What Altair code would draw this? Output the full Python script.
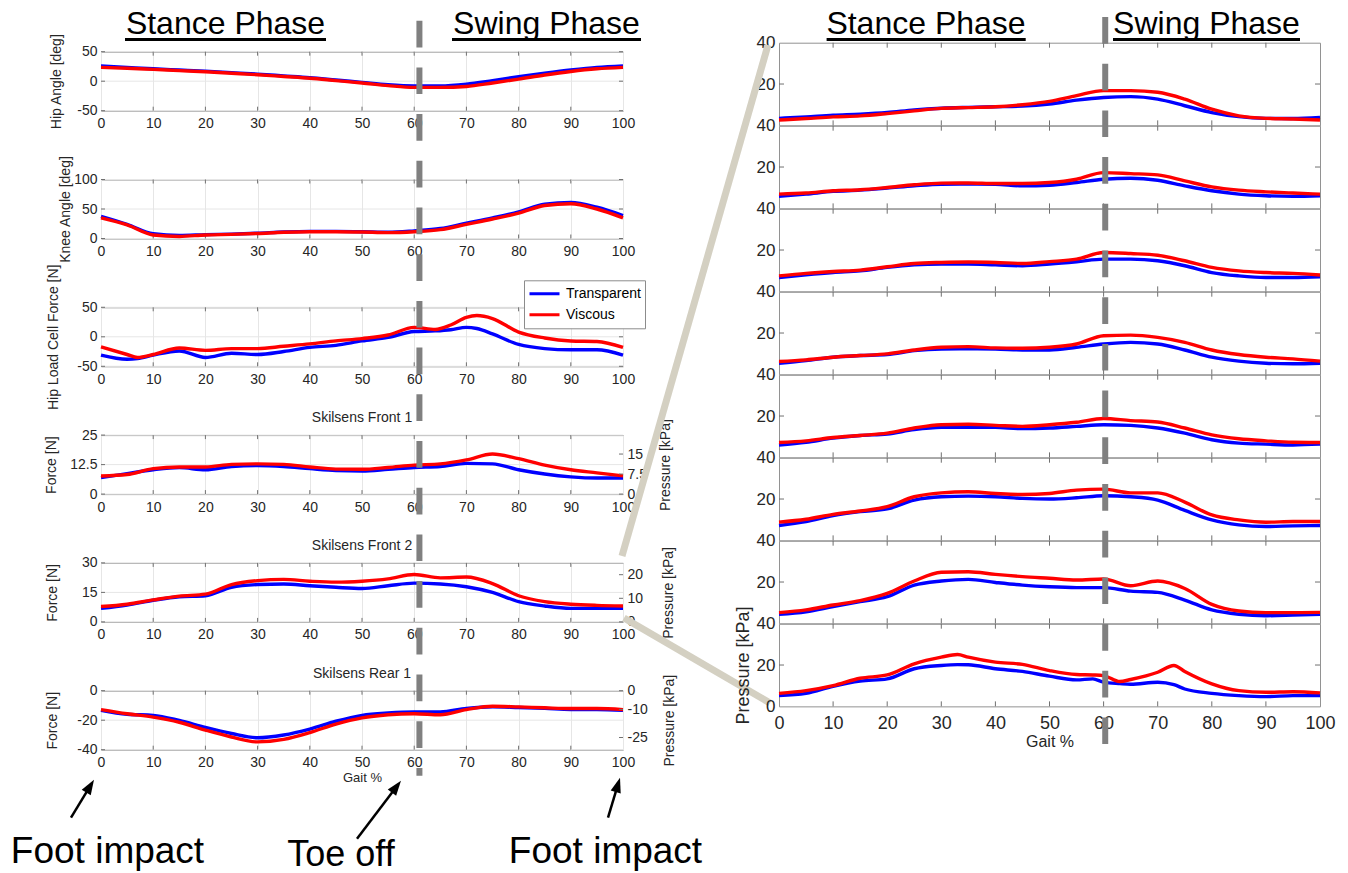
import math
import altair as alt
import pandas as pd

FONT = "Liberation Sans"
BLUE, RED = "#0000ff", "#ff0000"
FRAME = "#929292"
TICK = "#707070"
GRID = "#e6e6e6"
INK = "#262626"
DASH = "#808080"
BEIGE = "#d4d0c2"
SERIES = ["Transparent", "Viscous"]
NUM = "datum.value + ''"

# ---------------- data ----------------
G5 = list(range(0, 101, 5))
X_TICKS = list(range(0, 101, 10))
X_INNER = list(range(10, 100, 10))

HIP_T = [26, 23.5, 21, 19, 17, 14.5, 12, 9, 6, 2, -2, -6, -8, -8, -5, 1, 7.5, 13.5, 19, 23.5, 26]
HIP_V = [23.5, 22, 20, 18, 16, 13.5, 11, 8, 5, 1, -3, -7.5, -10.5, -10.5, -9, -3, 3.5, 10.5, 16.5, 21, 23.5]
KNEE_T = [37.5, 24, 8, 5, 6.5, 7.5, 9, 11, 12, 12, 11.5, 10.5, 13, 17, 26, 35, 45, 58, 61, 53, 39]
KNEE_V = [35, 23, 6, 3.5, 6, 7, 8.5, 10.5, 11.5, 11.5, 11, 10, 11.5, 15, 24, 33, 43, 56, 59, 50, 35]
LOAD_X = [0, 5, 7, 10, 15, 20, 25, 30, 35, 40, 45, 50, 55, 60, 64, 67, 70, 72, 75, 80, 85, 90, 95, 100]
LOAD_T = [-31, -38, -37, -31, -24, -35, -28, -30, -25, -18, -14.5, -7, -1, 9, 10, 12, 16, 14, 5, -13, -20, -22, -22, -31]
LOAD_V = [-17, -30, -35, -30, -19, -23, -20, -20, -16, -12, -7, -3, 3, 16, 12.5, 20, 33, 36, 31, 8, -2, -7, -8, -18]
FRONT1_T = [7, 8.7, 10.3, 11.2, 10.3, 11.7, 12.1, 11.7, 10.8, 10, 9.8, 10.5, 11.3, 11.7, 13, 12.8, 10.3, 8.5, 7.3, 6.8, 6.8]
FRONT1_V = [7.7, 8.3, 10.8, 11.5, 11.5, 12.6, 12.8, 12.6, 11.5, 10.6, 10.5, 11.3, 12.3, 12.8, 14.5, 17, 15, 12.3, 10.3, 9, 7.7]
FRONT2_T = [6.9, 8.6, 11, 12.8, 13.3, 17.6, 19, 19.3, 18.4, 17.6, 17, 18.4, 19.7, 19.3, 17.9, 15, 10.3, 8.1, 6.9, 6.9, 6.9]
FRONT2_V = [7.8, 9, 11.2, 13.1, 14.1, 19, 21, 21.6, 20.7, 20.2, 20.7, 21.9, 24.1, 22.4, 22.8, 19.5, 13.3, 10.3, 9, 8.4, 8.1]
REAR_T = [-13.3, -16, -16.7, -20.2, -24.9, -29, -31.9, -30, -26, -20.7, -16.7, -15.1, -14.4, -14.4, -12, -10.9, -11.4, -12, -12.8, -12.8, -13.3]
REAR_V = [-12.8, -15.6, -17.9, -21.4, -26.7, -31.4, -34.7, -33, -28.4, -22.6, -18.4, -16.3, -15.6, -16.3, -12.8, -10.5, -11, -11.6, -12.1, -12.1, -12.8]

R1_T = [3.4, 4.1, 4.9, 5.4, 6.2, 7.5, 8.3, 8.7, 9.0, 9.3, 10.3, 12.2, 13.5, 13.9, 12.7, 9.5, 6.2, 4.2, 3.4, 3.3, 3.8]
R1_V = [2.6, 3.3, 4.1, 4.6, 5.7, 7.0, 8.2, 8.6, 9.0, 10.0, 11.6, 14.4, 16.8, 16.8, 16.0, 12.7, 7.8, 4.6, 3.4, 3.1, 2.6]
R2_T = [5.8, 6.9, 8.2, 8.8, 9.8, 10.9, 11.7, 11.8, 11.7, 10.9, 11.2, 12.5, 14.1, 14.6, 13.6, 10.9, 8.5, 6.9, 6.1, 5.8, 6.1]
R2_V = [6.9, 7.4, 8.5, 9.0, 10.1, 11.4, 12.2, 12.3, 12.0, 12.0, 12.5, 14.1, 17.3, 16.8, 16.2, 13.3, 10.4, 8.8, 8.0, 7.4, 6.9]
R3_T = [6.7, 8.0, 9.1, 9.9, 11.6, 12.8, 13.2, 13.2, 12.8, 12.4, 13.2, 14.3, 15.6, 15.6, 14.8, 12.4, 9.1, 7.5, 6.7, 6.7, 7.1]
R3_V = [7.5, 8.7, 9.6, 10.3, 11.9, 13.5, 14.0, 14.2, 14.0, 13.5, 14.4, 15.6, 18.8, 18.3, 17.5, 14.8, 11.6, 9.9, 9.1, 8.7, 7.9]
R4_T = [5.4, 6.7, 8.3, 9.1, 9.6, 11.5, 12.3, 12.4, 12.3, 11.8, 11.8, 13.1, 14.7, 15.5, 14.7, 11.8, 8.3, 6.4, 5.4, 5.1, 5.4]
R4_V = [6.2, 7.0, 8.3, 9.1, 9.9, 11.8, 13.1, 13.4, 12.8, 12.6, 13.1, 14.7, 18.7, 19.0, 17.9, 15.5, 11.8, 9.6, 8.3, 7.5, 6.4]
R5_T = [6.0, 7.3, 9.3, 10.6, 11.3, 13.4, 14.5, 14.6, 14.5, 13.9, 14.2, 15.0, 15.8, 15.5, 14.2, 11.7, 8.5, 6.9, 6.4, 6.0, 6.4]
R5_V = [7.2, 8.0, 9.6, 10.6, 11.7, 14.2, 15.8, 16.0, 15.5, 15.0, 15.8, 17.0, 18.8, 17.8, 17.1, 14.2, 10.9, 9.0, 8.0, 7.3, 7.2]
R6_T = [7.2, 9.1, 12.0, 13.9, 15.2, 19.5, 21.1, 21.4, 21.1, 20.3, 20.0, 20.6, 21.6, 21.1, 19.5, 14.5, 9.9, 7.5, 6.7, 7.0, 7.2]
R6_V = [8.8, 10.2, 12.6, 14.2, 16.3, 21.1, 23.0, 23.5, 22.7, 22.2, 22.7, 24.3, 24.8, 23.0, 23.0, 18.5, 12.3, 9.9, 8.8, 9.1, 9.1]
R7_T = [4.4, 5.6, 8.1, 10.5, 12.9, 18.5, 20.5, 21.3, 19.8, 18.5, 17.7, 17.3, 17.3, 15.6, 15.0, 11.3, 6.5, 4.4, 3.7, 4.0, 4.4]
R7_V = [5.2, 6.5, 8.9, 11.0, 14.5, 20.5, 24.7, 25.0, 23.7, 22.6, 21.8, 21.0, 21.5, 18.2, 20.5, 16.9, 9.2, 6.0, 5.2, 5.2, 5.3]
R8_X = [0, 5, 10, 15, 20, 25, 30, 33, 35, 40, 45, 50, 55, 58, 60, 63, 65, 70, 73, 75, 80, 85, 90, 95, 100]
R8_T = [5.2, 6.3, 9.7, 12.2, 13.3, 18.2, 19.8, 20.2, 20.1, 18.2, 16.9, 14.6, 12.8, 13.3, 11.7, 11.0, 10.7, 11.7, 10.5, 8.4, 6.3, 5.2, 4.7, 5.2, 5.2]
R8_V = [6.3, 7.6, 10.0, 13.6, 15.2, 20.6, 23.8, 25.1, 23.8, 21.4, 20.3, 17.3, 15.4, 15.2, 14.9, 12.0, 13.0, 16.5, 19.8, 16.9, 10.9, 7.6, 6.8, 7.1, 6.5]

PHASES = ["Stance Phase", "Swing Phase"]
EVENTS = ["Foot impact", "Toe off", "Foot impact"]
SENSORS = ["Skilsens Front 1", "Skilsens Front 2", "Skilsens Rear 1"]
TOE_OFF = 61.0
TOE_OFF_R = 60.3

# ---------------- layout (pixels) ----------------
LW, LH, LGAP = 522, 59, 68.8
RW, RH = 541, 82.66
TL = 4
LINE_W = 3.4

ONE = pd.DataFrame({"k": [0]})


def lin(dom):
    return alt.Scale(domain=dom, nice=False, zero=False)


def series_df(x, t, v):
    n = len(x)
    return pd.DataFrame({"gait": list(x) * 2, "value": list(t) + list(v),
                         "series": [SERIES[0]] * n + [SERIES[1]] * n})


def color_enc(legend):
    sc = alt.Scale(domain=SERIES, range=[BLUE, RED])
    if legend is None:
        return alt.Color("series:N", scale=sc, legend=None)
    return alt.Color("series:N", scale=sc, legend=legend)


def seg(x, x2, y, y2, color, width):
    return alt.Chart(ONE).mark_rule(color=color, strokeWidth=width, strokeCap="butt").encode(
        x=alt.value(x), x2=alt.value(x2), y=alt.value(y), y2=alt.value(y2))


def label(text, x, y, size, color="black"):
    return alt.Chart(pd.DataFrame({"t": [text]})).mark_text(
        fontSize=size, align="center", baseline="alphabetic", color=color).encode(
        x=alt.value(x), y=alt.value(y), text="t:N")


def arrow(tail, tip):
    dx, dy = tip[0] - tail[0], tip[1] - tail[1]
    L = math.hypot(dx, dy)
    ux, uy = dx / L, dy / L
    cx, cy = tip[0] - 7.5 * ux, tip[1] - 7.5 * uy
    ang = math.degrees(math.atan2(ux, -uy)) % 360
    line = seg(tail[0], cx, tail[1], cy, "black", 2.5)
    head = alt.Chart(ONE).mark_point(shape="M0,-1L-0.7,1L0.7,1Z", filled=True, size=225,
                                      angle=ang, color="black", opacity=1).encode(
        x=alt.value(cx), y=alt.value(cy))
    return [line, head]


def dashed(xval, y0, y1, xax):
    return alt.Chart(ONE).mark_rule(color=DASH, strokeWidth=6, strokeDash=[26.7, 20],
                                    strokeCap="butt").encode(
        x=alt.XDatum(xval, scale=lin([0, 100]), axis=xax), y=alt.value(y0), y2=alt.value(y1))


def xfield(xax):
    if xax is None:
        return alt.X("gait:Q", scale=lin([0, 100]), axis=None)
    return alt.X("gait:Q", scale=lin([0, 100]), axis=xax)


def yfield(ydom, yax):
    return alt.Y("value:Q", scale=lin(ydom), axis=yax)


def guide_marks(yvals, ydom, w, h, tl, xax, yax, right=True, grid=False):
    xdf = pd.DataFrame({"gait": X_INNER})
    ydf = pd.DataFrame({"value": yvals})
    out = []
    if grid:
        out.append(alt.Chart(ydf).mark_rule(color=GRID, strokeWidth=1).encode(
            y=yfield(ydom, yax), x=alt.value(0), x2=alt.value(w)))
    out += [
        alt.Chart(xdf).mark_rule(color=TICK, strokeWidth=1).encode(
            x=xfield(xax), y=alt.value(h), y2=alt.value(h - tl)),
        alt.Chart(xdf).mark_rule(color=TICK, strokeWidth=1).encode(
            x=xfield(xax), y=alt.value(0), y2=alt.value(tl)),
        alt.Chart(ydf).mark_rule(color=TICK, strokeWidth=1).encode(
            y=yfield(ydom, yax), x=alt.value(0), x2=alt.value(tl)),
    ]
    if right:
        out.append(alt.Chart(ydf).mark_rule(color=TICK, strokeWidth=1).encode(
            y=yfield(ydom, yax), x=alt.value(w - tl), x2=alt.value(w)))
    return out


def left_panel(x, t, v, ydom, yticks, ytitle, tpad, title=None, xtitle=None,
               press=None, legend=None, notes=False):
    xax_kw = dict(values=X_TICKS, grid=True, gridColor=GRID, tickSize=0, domain=False,
                  labelPadding=6, labelFontSize=14, labelColor=INK, labelFlush=False,
                  labelOverlap=False, labelExpr=NUM)
    if xtitle:
        xax = alt.Axis(title=xtitle, titleFontSize=13, titleFontWeight="normal",
                       titleColor=INK, titlePadding=2, **xax_kw)
    else:
        xax = alt.Axis(title=None, **xax_kw)
    yax = alt.Axis(values=yticks, grid=False, tickSize=0, domain=False,
                   labelPadding=4, labelFontSize=14, labelColor=INK, labelExpr=NUM,
                   labelOverlap=False, title=ytitle, titleFontSize=14,
                   titleFontWeight="normal", titleColor=INK, titlePadding=tpad)
    lines = alt.Chart(series_df(x, t, v)).mark_line(strokeWidth=LINE_W, interpolate="monotone").encode(
        x=xfield(xax), y=yfield(ydom, yax), color=color_enc(legend))
    layers = guide_marks(yticks, ydom, LW, LH, TL, xax, yax, right=press is None, grid=True)
    layers.append(lines)
    if title:
        layers.append(label(title, LW / 2, -13, 14, INK))
    if notes:
        layers.append(dashed(TOE_OFF, -670, 85, xax))
        layers += arrow((-30, 127), (-7, 89))
        layers += arrow((256, 148), (300, 90))
        layers += arrow((507, 127), (519, 87))
        layers += [label(EVENTS[0], 6.5, 172, 37), label(EVENTS[1], 240, 175, 36),
                   label(EVENTS[2], 504.5, 172, 37)]
    ch = alt.layer(*layers)
    if press is not None:
        pdom, pticks, ppad = press
        player = alt.Chart(pd.DataFrame({"p": pticks})).mark_rule(color=TICK, strokeWidth=1).encode(
            y=alt.Y("p:Q", scale=lin(pdom),
                    axis=alt.Axis(orient="right", values=pticks, tickSize=0, domain=False,
                                  grid=False, labelPadding=4, labelFontSize=14, labelColor=INK,
                                  labelOverlap=False, labelExpr=NUM, title="Pressure [kPa]",
                                  titleAngle=270, titleBaseline="top", titleFontSize=14,
                                  titleFontWeight="normal", titleColor=INK,
                                  titlePadding=ppad)),
            x=alt.value(LW - TL), x2=alt.value(LW))
        ch = alt.layer(ch, player).resolve_scale(y="independent")
    return ch.properties(width=LW, height=LH)


def right_panel(x, t, v, first=False, last=False):
    if last:
        xax = alt.Axis(values=X_TICKS, tickSize=0, domain=False, grid=False, labelPadding=8,
                       labelFontSize=18, labelColor=INK, labelFlush=False, labelOverlap=False,
                       labelExpr=NUM, title="Gait %", titleFontSize=16,
                       titleFontWeight="normal", titleColor=INK, titlePadding=1)
        yax = alt.Axis(values=[0, 20, 40], tickSize=0, domain=False, grid=False,
                       labelPadding=4, labelFontSize=17, labelColor=INK, labelExpr=NUM,
                       labelOverlap=False, title="Pressure [kPa]", titleFontSize=18,
                       titleFontWeight="normal", titleColor=INK, titlePadding=4)
    else:
        xax = None
        yax = alt.Axis(values=[20, 40], tickSize=0, domain=False, grid=False,
                       labelPadding=4, labelFontSize=17, labelColor=INK, labelExpr=NUM,
                       labelOverlap=False, title=None)
    lines = alt.Chart(series_df(x, t, v)).mark_line(strokeWidth=LINE_W, interpolate="monotone").encode(
        x=xfield(xax), y=yfield([0, 40], yax), color=color_enc(None))
    layers = guide_marks([20], [0, 40], RW, RH, 5, xax, yax) + [lines]
    if first:
        layers += [
            seg(-157, -11, 513.3, 2.3, BEIGE, 7), seg(-155, -9, 575.3, 660.3, BEIGE, 7),
            label(PHASES[0], 147, -8.7, 32), seg(47.6, 246.7, -3.2, -3.2, "black", 3),
            label(PHASES[1], 427.5, -8.7, 32), seg(334, 521, -3.2, -3.2, "black", 3),
        ]
    if last:
        layers.append(dashed(TOE_OFF_R, -606.7, 120.3, xax))
    return alt.layer(*layers).properties(width=RW, height=RH)


# ---------------- annotations ----------------
spacer = alt.layer(
    label(PHASES[0], 124.5, -8.7, 32), seg(24, 225, -3.2, -3.2, "black", 3),
    label(PHASES[1], 445.5, -8.7, 32), seg(351, 540, -3.2, -3.2, "black", 3),
).properties(width=LW, height=8.3, view=alt.ViewBackground(stroke="transparent"))

legend = alt.Legend(orient="none", legendX=423, legendY=-27, title=None,
                    symbolType="stroke", symbolStrokeWidth=3, symbolSize=900,
                    labelFontSize=14, labelColor="black", strokeColor="#8c8c8c",
                    fillColor="white", padding=4, clipHeight=19, rowPadding=2,
                    labelOffset=5)

left_panels = [
    left_panel(G5, HIP_T, HIP_V, [-50, 50], [-50, 0, 50], "Hip Angle [deg]", 13),
    left_panel(G5, KNEE_T, KNEE_V, [0, 100], [0, 50, 100], "Knee Angle [deg]", 1),
    left_panel(LOAD_X, LOAD_T, LOAD_V, [-50, 50], [-50, 0, 50], "Hip Load Cell Force [N]", 16,
               legend=legend),
    left_panel(G5, FRONT1_T, FRONT1_V, [0, 25], [0, 12.5, 25], "Force [N]", 11,
               title=SENSORS[0], press=([0, 22.1], [0, 7.5, 15], 12)),
    left_panel(G5, FRONT2_T, FRONT2_V, [0, 30], [0, 15, 30], "Force [N]", 22,
               title=SENSORS[1], press=([0, 25], [0, 10, 20], 19)),
    left_panel(G5, REAR_T, REAR_V, [-40, 0], [-40, -20, 0], "Force [N]", 17,
               title=SENSORS[2], xtitle="Gait %",
               press=([-31.5, 0], [-25, -10, 0], 15), notes=True),
]

R_SETS = [(G5, R1_T, R1_V), (G5, R2_T, R2_V), (G5, R3_T, R3_V), (G5, R4_T, R4_V),
          (G5, R5_T, R5_V), (G5, R6_T, R6_V), (G5, R7_T, R7_V), (R8_X, R8_T, R8_V)]
right_panels = [right_panel(x, t, v, first=(i == 0), last=(i == len(R_SETS) - 1))
                for i, (x, t, v) in enumerate(R_SETS)]


def col(charts, spacing):
    return alt.vconcat(*charts, spacing=spacing, bounds="flush").resolve_scale(
        color="independent").resolve_legend(color="independent")


left_col = col([spacer, col(left_panels, LGAP)], 0)
right_col = col(right_panels, 0)

chart = alt.hconcat(left_col, right_col, spacing=678, bounds="flush").resolve_scale(
    color="independent").resolve_legend(color="independent").properties(
    padding={"left": 101, "top": 42.7, "right": 1247, "bottom": 830.3},
    autosize=alt.AutoSizeParams(type="none"),
    background="white",
).configure(font=FONT).configure_view(stroke=FRAME, strokeWidth=1).configure_axis(
    labelFont=FONT, titleFont=FONT, labelOverlap=False).configure_legend(
    labelFont=FONT).configure_title(font=FONT)

chart.save("out.html", embed_options={"renderer": "svg", "actions": False})
